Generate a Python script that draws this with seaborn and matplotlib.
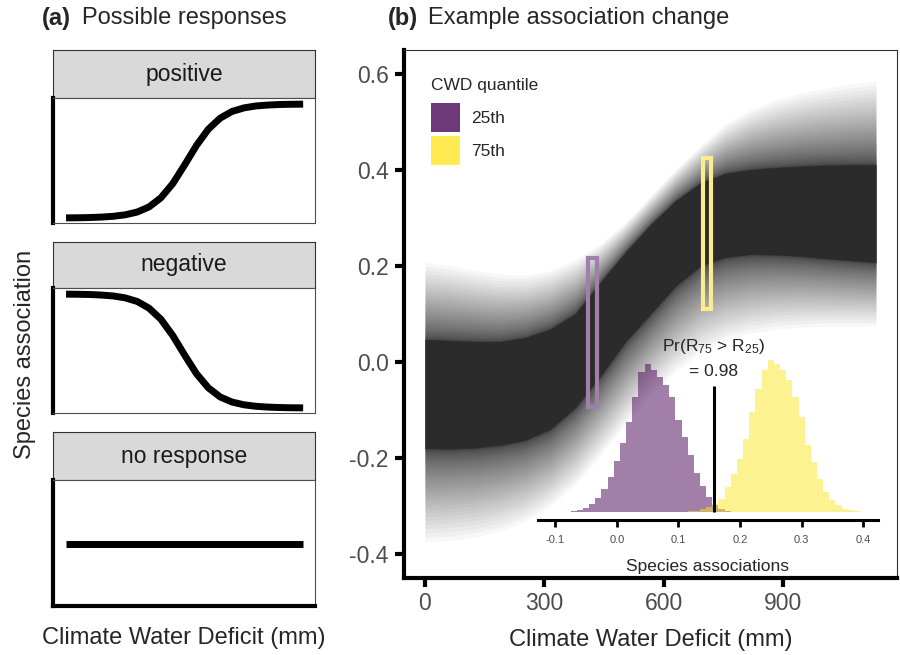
import numpy as np
import pandas as pd
import matplotlib
matplotlib.use("Agg")
import matplotlib.pyplot as plt
from matplotlib.patches import Patch, Rectangle
import seaborn as sns

sns.set_theme(style="white")
plt.rcParams["font.family"] = ["Liberation Sans", "DejaVu Sans"]
plt.rcParams["mathtext.fontset"] = "custom"
plt.rcParams["mathtext.rm"] = "Liberation Sans"
plt.rcParams["mathtext.it"] = "Liberation Sans:italic"
plt.rcParams["axes.unicode_minus"] = False

# ---- (a) idealised responses (both axes scaled 0-1) ----
resp_x = [0.0, 0.05, 0.10, 0.15, 0.20, 0.25, 0.30, 0.35, 0.40, 0.45, 0.50,
          0.55, 0.60, 0.65, 0.70, 0.75, 0.80, 0.85, 0.90, 0.95, 1.0]
resp_positive = [0.001, 0.002, 0.004, 0.008, 0.015, 0.028, 0.052, 0.097, 0.177, 0.301, 0.465,
                 0.636, 0.779, 0.876, 0.935, 0.966, 0.983, 0.991, 0.996, 0.998, 0.999]
resp_negative = [0.999, 0.998, 0.996, 0.991, 0.983, 0.966, 0.935, 0.876, 0.779, 0.636, 0.465,
                 0.301, 0.177, 0.097, 0.052, 0.028, 0.015, 0.008, 0.004, 0.002, 0.001]
resp_none_x = [0.0, 1.0]
resp_none = [0.5, 0.5]
panel_names = ["positive", "negative", "no response"]

# ---- (b) posterior band of association vs CWD ----
cwd = [0, 63, 126, 189, 252, 315, 378, 441, 504, 567,
       630, 693, 756, 819, 882, 945, 1008, 1071, 1134]
core_top = [0.046, 0.044, 0.042, 0.042, 0.050, 0.068, 0.100, 0.165, 0.228, 0.285,
            0.335, 0.372, 0.392, 0.400, 0.404, 0.407, 0.409, 0.410, 0.410]
core_bottom = [-0.180, -0.181, -0.179, -0.173, -0.163, -0.140, -0.095, -0.030, 0.042, 0.100,
               0.158, 0.200, 0.218, 0.224, 0.223, 0.220, 0.215, 0.211, 0.207]
outer_top = [0.207, 0.200, 0.190, 0.182, 0.180, 0.190, 0.212, 0.245, 0.290, 0.345,
             0.400, 0.450, 0.495, 0.525, 0.545, 0.560, 0.570, 0.578, 0.585]
outer_bottom = [-0.375, -0.372, -0.365, -0.352, -0.332, -0.300, -0.255, -0.195, -0.130, -0.070,
                -0.020, 0.020, 0.045, 0.060, 0.068, 0.072, 0.074, 0.075, 0.075]

# CWD quantile windows
quant_labels = ["25th", "75th"]
quant_cwd = [422, 709]
quant_lo = [-0.094, 0.109]
quant_hi = [0.217, 0.424]

# ---- inset: posterior histograms of association at each quantile ----
q25_centers = [-0.08, -0.07, -0.06, -0.05, -0.04, -0.03, -0.02, -0.01, 0.00, 0.01,
               0.02, 0.03, 0.04, 0.05, 0.06, 0.07, 0.08, 0.09, 0.10, 0.11,
               0.12, 0.13, 0.14, 0.15, 0.16, 0.17, 0.18, 0.19]
q25_counts = [1, 3, 6, 12, 25, 42, 70, 105, 152, 208,
              270, 345, 420, 445, 425, 405, 382, 345, 275, 225,
              170, 118, 77, 45, 22, 10, 4, 1]
q75_centers = [0.12, 0.13, 0.14, 0.15, 0.16, 0.17, 0.18, 0.19, 0.20, 0.21,
               0.22, 0.23, 0.24, 0.25, 0.26, 0.27, 0.28, 0.29, 0.30, 0.31,
               0.32, 0.33, 0.34, 0.35, 0.36, 0.37, 0.38, 0.39]
q75_counts = [2, 4, 8, 15, 25, 40, 75, 115, 160, 220,
              300, 370, 425, 455, 445, 425, 395, 345, 285, 202,
              150, 100, 60, 35, 20, 10, 5, 2]
split_value = 0.157
prob_value = 0.98

purple = "#440154"
yellow = "#FDE725"
band_col = "#2b2b2b"
tick_grey = "#4d4d4d"
W, H = 900, 655

fig = plt.figure(figsize=(9, 6.55), dpi=100)


def fig_rect(x0, y0, x1, y1):
    # pixel box (top-left origin) -> figure fraction rect
    return [x0 / W, 1 - y1 / H, (x1 - x0) / W, (y1 - y0) / H]


# ---------------- panel (a) ----------------
strips = [(50, 98), (242, 288), (432, 480)]
panels = [(98, 223), (288, 413), (480, 606)]
curves = [(resp_x, resp_positive), (resp_x, resp_negative), (resp_none_x, resp_none)]
for i, name in enumerate(panel_names):
    sax = fig.add_axes(fig_rect(53, strips[i][0], 315, strips[i][1]))
    sax.set_facecolor("#d9d9d9")
    sax.set_xticks([])
    sax.set_yticks([])
    for s in sax.spines.values():
        s.set_color("#333333")
        s.set_linewidth(0.8)
    sax.text(0.5, 0.5, name, ha="center", va="center", fontsize=16.5,
             color="#1a1a1a", transform=sax.transAxes)

    pax = fig.add_axes(fig_rect(53, panels[i][0], 315, panels[i][1]))
    xs, ys = curves[i]
    sns.lineplot(x=xs, y=ys, ax=pax, color="black", linewidth=5,
                 solid_capstyle="butt")
    pax.set_xlim(-0.055, 1.05)
    pax.set_ylim(-0.044, 1.053)
    pax.set_xticks([])
    pax.set_yticks([])
    pax.set_xlabel("")
    pax.set_ylabel("")
    for s in pax.spines.values():
        s.set_color("#4d4d4d")
        s.set_linewidth(0.8)
    pax.spines["left"].set_color("black")
    pax.spines["left"].set_linewidth(3)
    if i == 2:
        pax.spines["bottom"].set_color("black")
        pax.spines["bottom"].set_linewidth(3)

fig.text(42 / W, 1 - 18 / H, "(a)", fontsize=17, fontweight="bold", va="center")
fig.text(82 / W, 1 - 18 / H, "Possible responses", fontsize=17, va="center")
fig.text(25 / W, 1 - 354 / H, "Species association", fontsize=17, rotation=90,
         ha="center", va="center")
fig.text(184 / W, 1 - 638 / H, "Climate Water Deficit (mm)", fontsize=17,
         ha="center", va="center")

# ---------------- panel (b) ----------------
ax = fig.add_axes(fig_rect(404, 50, 897, 577.5))
cwd_a = np.array(cwd)
ct, cb = np.array(core_top), np.array(core_bottom)
ot, ob = np.array(outer_top), np.array(outer_bottom)
# soft halo of many faint layers, densest next to the core
n_layers = 60
for k in range(n_layers, 0, -1):
    f = (k / n_layers) ** 3
    ax.fill_between(cwd_a, cb - f * (cb - ob), ct + f * (ot - ct),
                    color=band_col, alpha=0.034, linewidth=0, zorder=1)
ax.fill_between(cwd_a, cb, ct, color=band_col, linewidth=0, zorder=2)

rect_cols = ["#a080aa", "#fbed8c"]
for xc, lo, hi, col in zip(quant_cwd, quant_lo, quant_hi, rect_cols):
    ax.add_patch(Rectangle((xc - 11, lo), 22, hi - lo, facecolor="none",
                           edgecolor=col, linewidth=3, zorder=3))

ax.set_xlim(-52.8, 1187)
ax.set_ylim(-0.449, 0.649)
ax.set_xticks([0, 300, 600, 900], labels=["0", "300", "600", "900"])
ax.set_yticks([-0.4, -0.2, 0.0, 0.2, 0.4, 0.6],
              labels=["-0.4", "-0.2", "0.0", "0.2", "0.4", "0.6"])
ax.tick_params(bottom=True, left=True, length=6.5, width=3, color="black",
               labelsize=16.5, labelcolor=tick_grey)
ax.tick_params(axis="x", pad=4)
ax.tick_params(axis="y", pad=4.5)
ax.set_xlabel("Climate Water Deficit (mm)", fontsize=17, labelpad=10)
for s in ["top", "right"]:
    ax.spines[s].set_color("#333333")
    ax.spines[s].set_linewidth(0.8)
for s in ["left", "bottom"]:
    ax.spines[s].set_color("black")
    ax.spines[s].set_linewidth(3)

handles = [Patch(facecolor=purple, alpha=0.78, linewidth=0),
           Patch(facecolor=yellow, alpha=0.8, linewidth=0)]
leg = ax.legend(handles, quant_labels, title="CWD quantile", loc="upper left",
                bbox_to_anchor=(431 / W, 1 - 78 / H), bbox_transform=fig.transFigure,
                frameon=False, fontsize=12.5, title_fontsize=12.5, handlelength=1.67,
                handleheight=2.19, labelspacing=0.23, handletextpad=0.65,
                borderpad=0, borderaxespad=0, alignment="left")
leg._legend_box.sep = 7.0  # a little more room under the legend title

fig.text(388 / W, 1 - 18 / H, "(b)", fontsize=17, fontweight="bold", va="center")
fig.text(428 / W, 1 - 18 / H, "Example association change", fontsize=17, va="center")

# ---------------- inset histogram ----------------
axi = fig.add_axes(fig_rect(538, 330, 878, 520))
axi.set_facecolor("none")
for centers, counts, col in [(q25_centers, q25_counts, purple),
                             (q75_centers, q75_counts, yellow)]:
    edges = [round(c - 0.005, 3) for c in centers] + [round(centers[-1] + 0.005, 3)]
    hist_df = pd.DataFrame({"assoc": centers, "n": counts})
    sns.histplot(data=hist_df, x="assoc", weights="n", bins=edges, element="step",
                 fill=True, color=col, alpha=0.5, linewidth=0, ax=axi)
axi.vlines(split_value, 0, 378, color="black", linewidth=2.2)
axi.text(split_value, 495, "Pr(R$_{75}$ > R$_{25}$)", ha="center", va="center",
         fontsize=12.5)
axi.text(split_value, 420, f"= {prob_value:.2f}", ha="center", va="center",
         fontsize=12.5)
axi.set_xlim(-0.128, 0.424)
axi.set_ylim(-24, 546)
axi.set_xticks([-0.1, 0.0, 0.1, 0.2, 0.3, 0.4],
               labels=["-0.1", "0.0", "0.1", "0.2", "0.3", "0.4"])
axi.set_yticks([])
axi.set_ylabel("")
axi.tick_params(bottom=True, length=5, width=2, color="black", labelsize=8,
                labelcolor=tick_grey, pad=6)
axi.set_xlabel("Species associations", fontsize=12.5, labelpad=10)
for s in ["top", "right", "left"]:
    axi.spines[s].set_visible(False)
axi.spines["bottom"].set_color("black")
axi.spines["bottom"].set_linewidth(2.2)

fig.savefig("out.png", dpi=100)
